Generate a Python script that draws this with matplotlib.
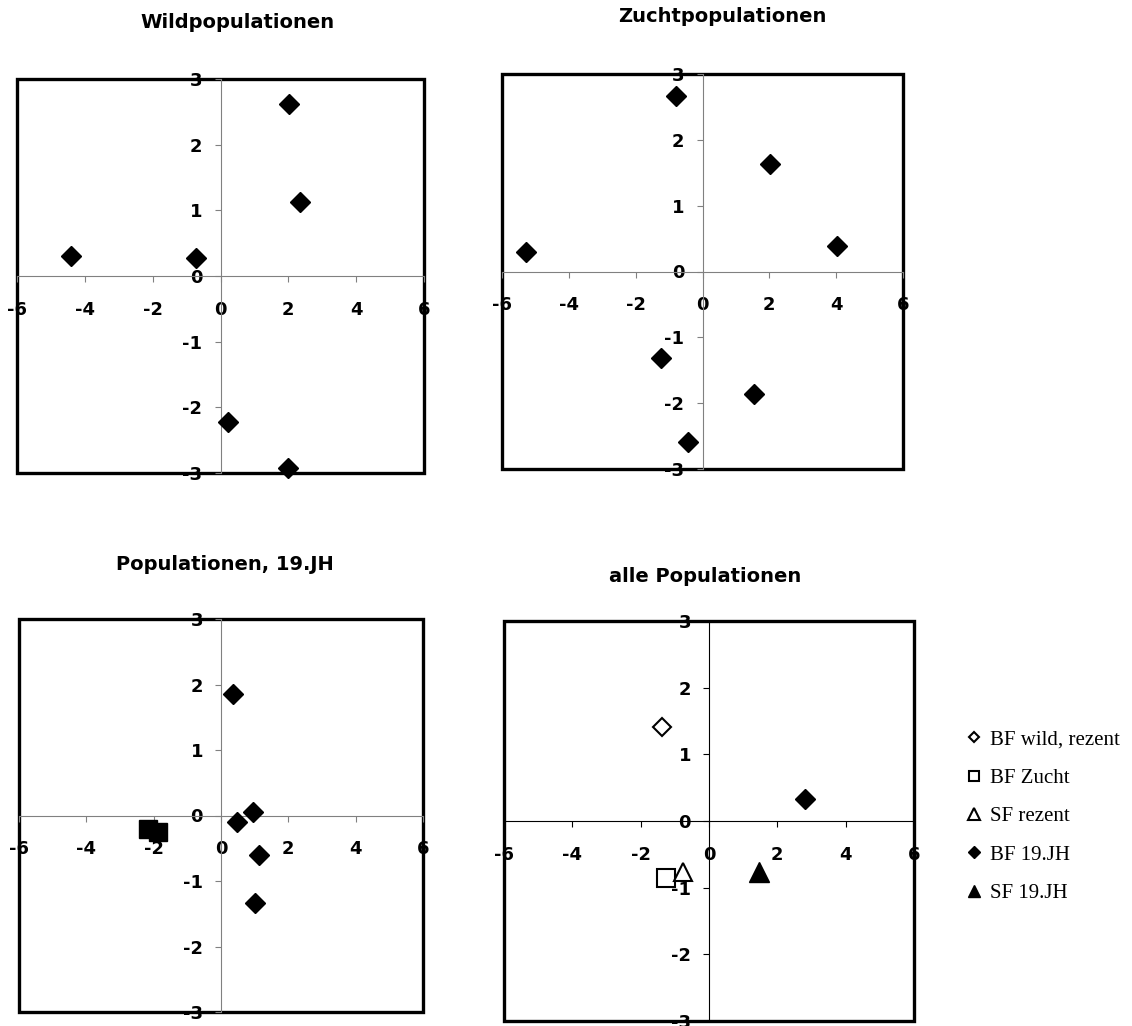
import matplotlib
matplotlib.use('Agg')
import matplotlib.pyplot as plt
from matplotlib.patches import Rectangle

W, H = 1132, 1026

# ---- data ----
x_ticks = [-6, -4, -2, 0, 2, 4, 6]
x_tick_labels = ['-6', '-4', '-2', '0', '2', '4', '6']
y_ticks = [-3, -2, -1, 0, 1, 2, 3]
y_tick_labels = ['-3', '-2', '-1', '0', '1', '2', '3']

titles = ['Wildpopulationen', 'Zuchtpopulationen', 'Populationen, 19.JH', 'alle Populationen']

# panel 1: Wildpopulationen
wild_x = [2.03, 2.34, -4.41, -0.73, 0.21, 1.98]
wild_y = [2.62, 1.13, 0.31, 0.28, -2.22, -2.92]

# panel 2: Zuchtpopulationen
zucht_x = [-0.79, 2.02, 4.01, -5.27, -1.23, 1.54, -0.44]
zucht_y = [2.66, 1.64, 0.39, 0.30, -1.31, -1.86, -2.59]

# panel 3: Populationen, 19.JH
bf19_x = [0.36, 0.95, 0.47, 1.13, 1.01]
bf19_y = [1.86, 0.06, -0.10, -0.60, -1.34]
sf19_x = [-2.18, -1.87]
sf19_y = [-0.21, -0.25]

# panel 4: alle Populationen (group means)
all_labels = ['BF wild, rezent', 'BF Zucht', 'SF rezent', 'BF 19.JH', 'SF 19.JH']
all_x = [-1.39, -1.26, -0.76, 2.81, 1.46]
all_y = [1.41, -0.85, -0.77, 0.33, -0.77]

# ---- figure ----
fig = plt.figure(figsize=(W / 100, H / 100), dpi=100)


def px_rect(l, t, r, b):
    return [l / W, 1 - b / H, (r - l) / W, (b - t) / H]


def setup(ax, axis_color):
    ax.set_xlim(-6, 6)
    ax.set_ylim(-3, 3)
    ax.patch.set_visible(False)
    for s in ['top', 'right']:
        ax.spines[s].set_visible(False)
    for s in ['left', 'bottom']:
        ax.spines[s].set_position(('data', 0))
        ax.spines[s].set_color(axis_color)
        ax.spines[s].set_linewidth(0.8)
    ax.set_xticks(x_ticks)
    ax.set_xticklabels(x_tick_labels)
    ax.set_yticks(y_ticks)
    ax.set_yticklabels(y_tick_labels)
    ax.tick_params(axis='x', direction='out', length=4, width=0.8,
                   color=axis_color, pad=14, labelsize=13)
    ax.tick_params(axis='y', direction='out', length=4, width=0.8,
                   color=axis_color, pad=9, labelsize=13)
    for lab in ax.get_xticklabels() + ax.get_yticklabels():
        lab.set_fontweight('bold')
    ax.add_patch(Rectangle((0, 0), 1, 1, transform=ax.transAxes, fill=False,
                           lw=2.4, ec='black', clip_on=False, zorder=1))


ax1 = fig.add_axes(px_rect(17, 79, 424, 473))
ax2 = fig.add_axes(px_rect(502, 74, 903, 469))
ax3 = fig.add_axes(px_rect(19, 619, 423, 1012))
ax4 = fig.add_axes(px_rect(504, 621, 914, 1021))

for ax, col in [(ax1, '#808080'), (ax2, '#808080'), (ax3, '#808080'), (ax4, 'black')]:
    setup(ax, col)

dkw = dict(ls='none', marker='D', ms=10.2, mfc='black', mec='black', mew=1, clip_on=False, zorder=3)
ax1.plot(wild_x, wild_y, **dkw)
ax2.plot(zucht_x, zucht_y, **dkw)
ax3.plot(sf19_x, sf19_y, ls='none', marker='s', ms=12.5, mfc='black', mec='black',
         mew=1, clip_on=False, zorder=3)
ax3.plot(bf19_x, bf19_y, **dkw)

styles = [
    dict(marker='D', ms=9.3, mfc='white', mec='black', mew=1.5),
    dict(marker='s', ms=12.6, mfc='white', mec='black', mew=1.5),
    dict(marker='^', ms=13.5, mfc='white', mec='black', mew=1.5),
    dict(marker='D', ms=10.2, mfc='black', mec='black', mew=1),
    dict(marker='^', ms=14.5, mfc='black', mec='black', mew=1),
]
handles = []
for xv, yv, lab, st in zip(all_x, all_y, all_labels, styles):
    h, = ax4.plot([xv], [yv], ls='none', label=lab, zorder=3, **st)
    handles.append(h)

fig.legend(handles=handles, labels=all_labels, loc='upper left',
           bbox_to_anchor=(967 / W, 1 - 730 / H), frameon=False,
           markerscale=0.6, handlelength=0.65, handletextpad=0.45,
           labelspacing=0.9, borderpad=0, borderaxespad=0,
           prop={'family': 'Liberation Serif', 'size': 15})

# titles
tkw = dict(ha='center', va='baseline', fontsize=14, fontweight='bold')
fig.text(237 / W, 1 - 28 / H, titles[0], **tkw)
fig.text(722 / W, 1 - 22 / H, titles[1], **tkw)
fig.text(225 / W, 1 - 570 / H, titles[2], **tkw)
fig.text(705 / W, 1 - 582 / H, titles[3], **tkw)

fig.savefig('out.png', dpi=100, facecolor='white')
